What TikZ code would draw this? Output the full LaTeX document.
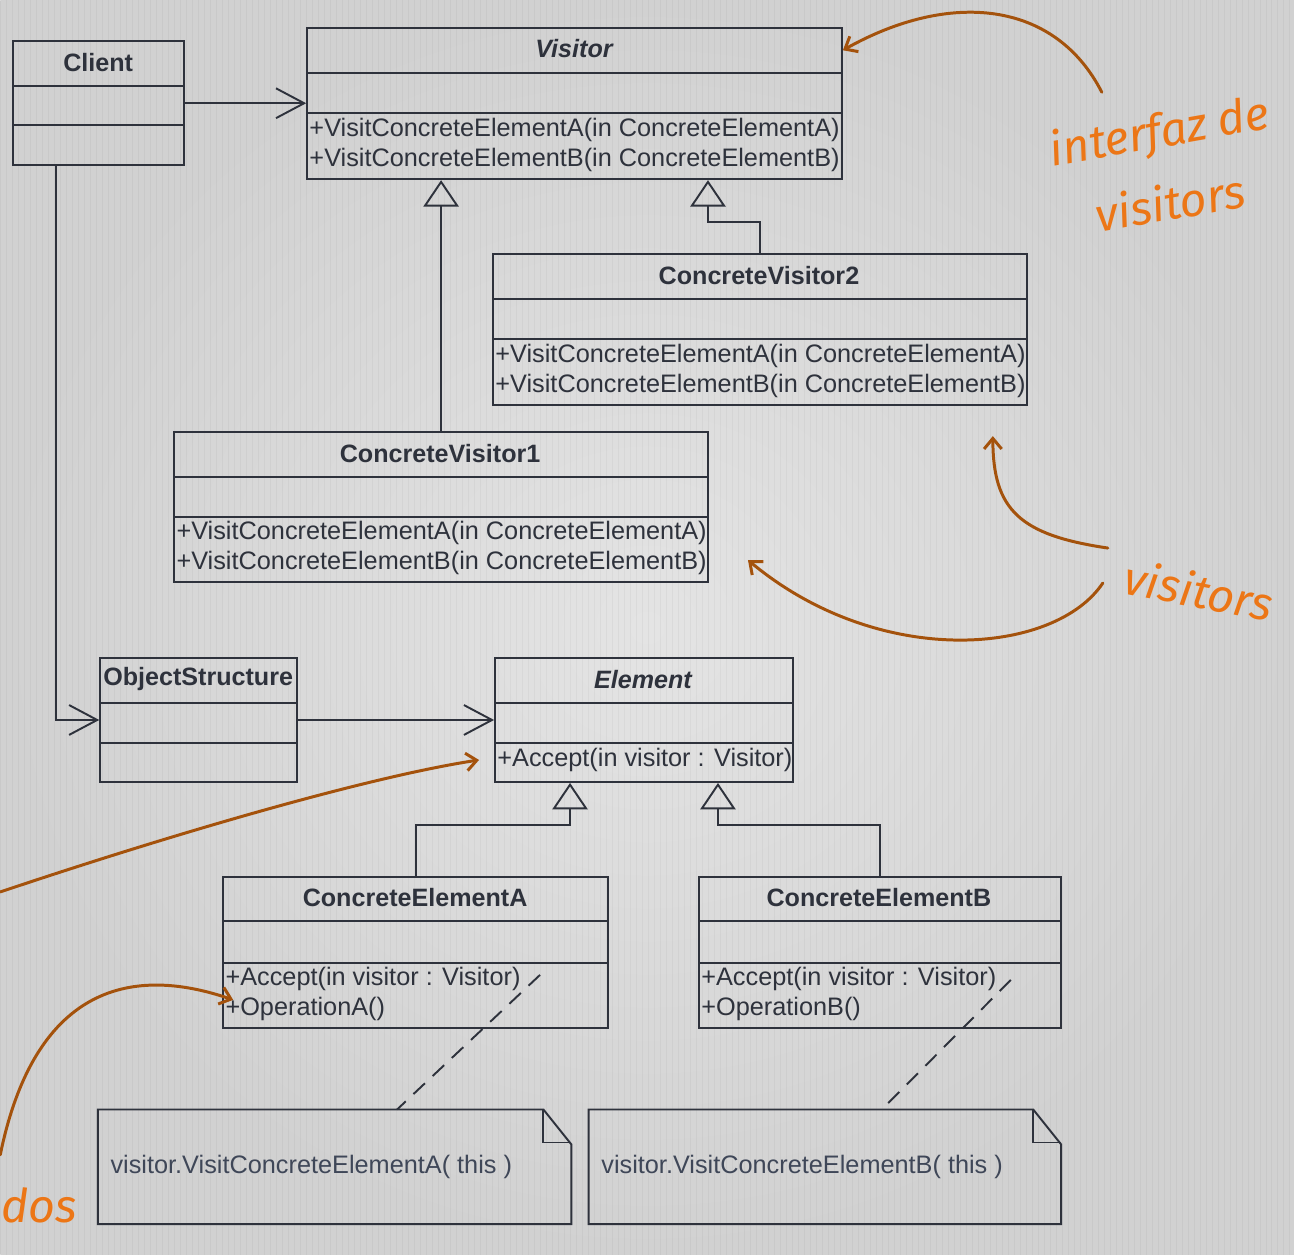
\documentclass[tikz,border=0pt]{standalone}
\usepackage{fontspec}
\setmainfont{Liberation Sans}
\newfontfamily\handfont{Fira Sans}
\usetikzlibrary{arrows.meta,fit,calc}
\definecolor{ink}{HTML}{2E323C}
\definecolor{noteink}{HTML}{3F4758}
\definecolor{pen}{HTML}{A4520C}
\definecolor{hand}{HTML}{EC7616}
\definecolor{paperin}{HTML}{E4E4E4}
\definecolor{paperout}{HTML}{D1D1D1}

% class box: name, x1, y1, x2, y2, first divider y, second divider y
\newcommand{\classbox}[7]{%
  \node[box, fit={(#2,#3) (#4,#5)}] (#1) {};
  \draw[rule] (#1.west |- 0,#6) -- (#1.east |- 0,#6);
  \draw[rule] (#1.west |- 0,#7) -- (#1.east |- 0,#7);
}
% note with folded corner: name, x1, y1, x2, y2
\newcommand{\notebox}[5]{%
  \node[inner sep=0pt, fit={(#2,#3) (#4,#5)}] (#1) {};
  \draw[rule, line join=miter] (#1.north west) -- ($(#1.north east)+(-28,0)$) -- ($(#1.north east)+(0,35)$) -- (#1.south east) -- (#1.south west) -- cycle;
  \draw[rule] ($(#1.north east)+(-28,0)$) -- ($(#1.north east)+(-28,33)$) -- ($(#1.north east)+(0,33)$);
}

\begin{document}
\begin{tikzpicture}[x=0.02cm,y=-0.02cm,
  box/.style={draw=ink, line width=1.1pt, inner sep=0pt},
  rule/.style={draw=ink, line width=1.1pt},
  ttl/.style={font=\fontsize{14.3}{16}\selectfont\bfseries, text=ink, inner sep=0pt},
  ittl/.style={font=\fontsize{14.3}{16}\selectfont\bfseries\itshape, text=ink, inner sep=0pt},
  mth/.style={font=\fontsize{14.4}{16}\selectfont, text=ink, anchor=west, inner sep=0pt},
  notetxt/.style={font=\fontsize{14.4}{16}\selectfont, text=noteink, anchor=west, inner sep=0pt},
  assoc/.style={draw=ink, line width=1.1pt, -{Straight Barb[length=16pt,width=17pt]}},
  gen/.style={draw=ink, line width=1.1pt, -{Triangle[open,length=15pt,width=20pt]}},
  anchorline/.style={draw=ink, line width=1.1pt, dash pattern=on 9pt off 6pt},
  remark/.style={draw=pen, line width=1.7pt, line cap=round, -{Straight Barb[length=6pt,width=10pt]}},
  handtxt/.style={font=\handfont\itshape\fontsize{26.5}{28}\selectfont, text=hand, inner sep=0pt},
]
% paper with faint grid
\shade[inner color=paperin, outer color=paperout] (0,0) rectangle (1294,1255);
\draw[black, opacity=0.035, line width=0.3pt, step=6] (0,0) grid (1294,1255);
\useasboundingbox (0,0) rectangle (1294,1255);

% classes
\classbox{client}{13}{41}{184}{165}{86}{125}
\classbox{visitor}{307}{28}{842}{179}{73}{113}
\classbox{cvtwo}{493}{254}{1027}{405}{299}{339}
\classbox{cvone}{174}{432}{708}{582}{477}{517}
\classbox{objs}{100}{658}{297}{782}{703}{743}
\classbox{element}{495}{658}{793}{782}{703}{743}
\classbox{elema}{223}{877}{608}{1028}{921}{963}
\classbox{elemb}{699}{877}{1061}{1028}{921}{963}

\node[ttl] (clientT) at (98,62) {Client};
\node[ittl] (visitorT) at (574,48) {Visitor};
\node[mth] (visitorM1) at (309,130) {+VisitConcreteElementA(in ConcreteElementA)};
\node[mth] (visitorM2) at (309,160) {+VisitConcreteElementB(in ConcreteElementB)};
\node[ttl] (cvtwoT) at (759,275) {ConcreteVisitor2};
\node[mth] (cvtwoM1) at (495,356) {+VisitConcreteElementA(in ConcreteElementA)};
\node[mth] (cvtwoM2) at (495,386) {+VisitConcreteElementB(in ConcreteElementB)};
\node[ttl] (cvoneT) at (440,453) {ConcreteVisitor1};
\node[mth] (cvoneM1) at (176,533) {+VisitConcreteElementA(in ConcreteElementA)};
\node[mth] (cvoneM2) at (176,563) {+VisitConcreteElementB(in ConcreteElementB)};
\node[ttl] (objsT) at (198,679) {ObjectStructure};
\node[ittl] (elementT) at (643,680) {Element};
\node[mth] (elementM1) at (497,760) {+Accept(in visitor : Visitor)};
\node[ttl] (elemaT) at (415,898) {ConcreteElementA};
\node[mth] (elemaM1) at (225,979) {+Accept(in visitor : Visitor)};
\node[mth] (elemaM2) at (225,1009) {+OperationA()};
\node[ttl] (elembT) at (879,898) {ConcreteElementB};
\node[mth] (elembM1) at (701,979) {+Accept(in visitor : Visitor)};
\node[mth] (elembM2) at (701,1009) {+OperationB()};

% notes
\notebox{notea}{98}{1110}{571}{1224}
\notebox{noteb}{589}{1110}{1061}{1224}
\node[notetxt] (noteaT) at (110,1167) {visitor.VisitConcreteElementA( this )};
\node[notetxt] (notebT) at (601,1167) {visitor.VisitConcreteElementB( this )};

% associations
\draw[assoc] (client.east) -- (client.east -| visitor.west);
\draw[assoc] (client.south -| 56,0) |- (objs.west);
\draw[assoc] (objs.east) -- (objs.east -| element.west);

% generalizations
\draw[gen] (cvone.north -| 441,0) -- (visitor.south -| 441,0);
\draw[gen] (cvtwo.north -| 760,0) |- (708,222) -- (visitor.south -| 708,0);
\draw[gen] (elema.north -| 416,0) |- (570,825) -- (element.south -| 570,0);
\draw[gen] (elemb.north -| 880,0) |- (718,825) -- (element.south -| 718,0);

% note anchors
\coordinate (ancA) at (540,975);
\coordinate (ancB) at (1011,980);
\draw[anchorline] (ancA) -- (notea.north -| 397,0);
\draw[anchorline] (ancB) -- (noteb.north -| 882,0);

% handwritten remarks
\node[handtxt, rotate=10] (remIface1) at (1160,134) {interfaz de};
\node[handtxt, rotate=10] (remIface2) at (1170,202) {visitors};
\node[handtxt, rotate=-11] (remVis) at (1199,590) {visitors};
\node[handtxt, anchor=base west] (remDos) at (1,1223) {dos};

\coordinate (p1) at (1102,92);
\coordinate (p2) at (1108,548);
\coordinate (p3) at (1103,583);
\coordinate (p4) at (0,892);
\coordinate (p5) at (0,1155);
\draw[remark] (p1) .. controls (1055,0) and (950,-10) .. (visitor.north east |- 0,50);
\draw[remark] (p2) .. controls (1020,535) and (993,510) .. (993,436);
\draw[remark] (p3) .. controls (1055,655) and (880,670) .. (748,560);
\draw[remark] (p4) .. controls (200,825) and (380,775) .. ($(elementM1.west)+(-18,0)$);
\draw[remark] (p5) .. controls (40,960) and (160,975) .. (233,1000);
\end{tikzpicture}
\end{document}
